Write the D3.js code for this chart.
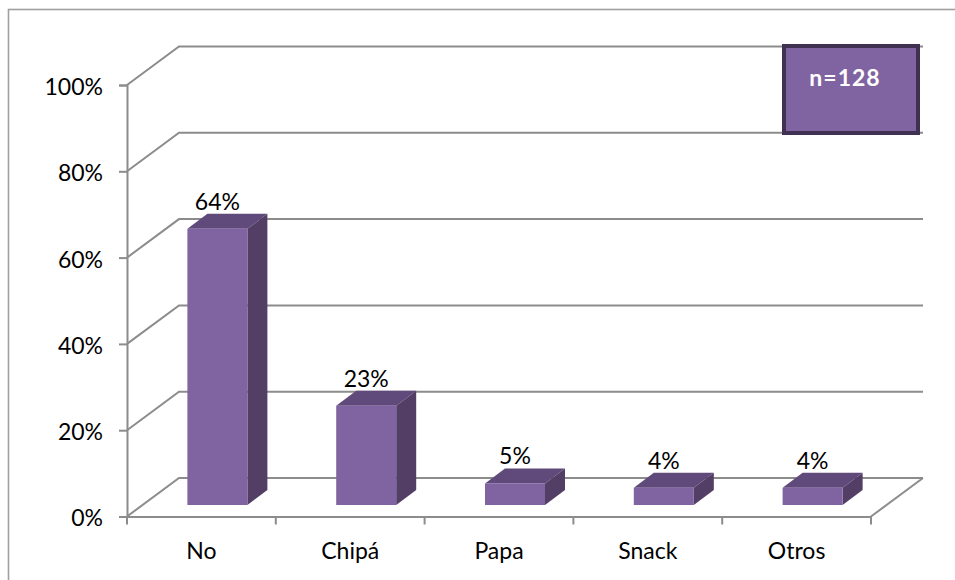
<!DOCTYPE html>
<html>
<head>
<meta charset="utf-8">
<script src="https://cdn.jsdelivr.net/npm/d3@7"></script>
<style>
html,body{margin:0;padding:0;background:#fff;overflow:hidden}
svg{display:block}
text{font-family:Lato,"Open Sans",sans-serif;fill:#000}
</style>
</head>
<body>
<svg id="c" width="955" height="580"></svg>
<script>
const categories = ["No","Chipá","Papa","Snack","Otros"];
const values = [64,23,5,4,4];
const valueLabels = ["64%","23%","5%","4%","4%"];
const yTicks = [0,20,40,60,80,100];
const note = "n=128";

const svg = d3.select("#c");
const W = 955, H = 580;
const gray = "#8c8c8c";
const left = 127, right = 871, floorY = 516.5, topY = 85;
const dx = 52, dy = -38.5;       // wall depth
const bdx = 20, bdy = -15;       // bar depth
const baseLift = 11.5;           // bar sits inside the floor
const fs = 23;

const y = d3.scaleLinear().domain([0,100]).range([floorY, topY]);
const x = d3.scaleBand().domain(categories).range([left,right]).paddingInner(0).paddingOuter(0);
const barW = 60;

// outer frame
svg.append("rect").attr("x",8.5).attr("y",9.5).attr("width",W).attr("height",H)
  .attr("fill","#fff").attr("stroke","#a0a0a0").attr("stroke-width",1.6);

// walls / gridlines
const grid = svg.append("g").attr("fill","none").attr("stroke",gray).attr("stroke-width",2);
yTicks.forEach(t=>{
  const yy = y(t);
  grid.append("path").attr("d",d3.line()([[left,yy],[left+dx,yy+dy],[right+dx,yy+dy]]));
});
// right floor edge
grid.append("path").attr("d",d3.line()([[right,floorY],[right+dx,floorY+dy]]));

// axes
const axisY = d3.axisLeft(y).tickValues(yTicks).tickFormat(d=>d+"%").tickSize(8).tickPadding(16);
const gy = svg.append("g").attr("transform",`translate(${left},0)`).call(axisY);
gy.selectAll("path,line").attr("stroke",gray).attr("stroke-width",2);
gy.selectAll("text").attr("font-size",fs).attr("dy","0.41em");

const axisX = d3.axisBottom(x).tickValues(categories).tickSize(0).tickPadding(26);
const gx = svg.append("g").attr("transform",`translate(0,${floorY})`).call(axisX);
gx.select(".domain").attr("stroke",gray).attr("stroke-width",2);
gx.selectAll("text").attr("font-size",fs).attr("dy","0.71em");
// band-edge ticks
gx.selectAll("line.edge").data([...categories.map(c=>x(c)),right]).join("line").attr("class","edge")
  .attr("x1",d=>d).attr("x2",d=>d).attr("y1",0).attr("y2",8)
  .attr("stroke",gray).attr("stroke-width",2);

// bars
const bars = svg.append("g").selectAll("g").data(categories).join("g");
const bx = (c)=>x(c)+x.bandwidth()/2-14;
const by = (v)=>y(v)-baseLift;
const base = y(0)-baseLift;
bars.append("path").attr("fill","#604a7b").attr("d",(c,i)=>{
  const a=bx(c), t=by(values[i]);
  return d3.line()([[a,t],[a+bdx,t+bdy],[a+barW+bdx,t+bdy],[a+barW,t]])+"Z";
});
bars.append("path").attr("fill","#533e66").attr("d",(c,i)=>{
  const a=bx(c)+barW, t=by(values[i]);
  return d3.line()([[a,t],[a+bdx,t+bdy],[a+bdx,base+bdy],[a,base]])+"Z";
});
bars.append("rect").attr("fill","#8064a2")
  .attr("x",c=>bx(c)).attr("width",barW)
  .attr("y",(c,i)=>by(values[i])).attr("height",(c,i)=>base-by(values[i]));
bars.append("text").attr("font-size",fs).attr("text-anchor","middle")
  .attr("x",c=>bx(c)+barW/2).attr("y",(c,i)=>by(values[i])+bdy-4)
  .text((c,i)=>valueLabels[i]);

// note box
svg.append("rect").attr("x",784).attr("y",46).attr("width",134).attr("height",87)
  .attr("fill","#8064a2").attr("stroke","#403152").attr("stroke-width",4);
svg.append("text").attr("x",845).attr("y",85.5).attr("text-anchor","middle")
  .attr("font-size",23).attr("font-weight",700).attr("letter-spacing",1).style("fill","#fff").text(note);
</script>
</body>
</html>
